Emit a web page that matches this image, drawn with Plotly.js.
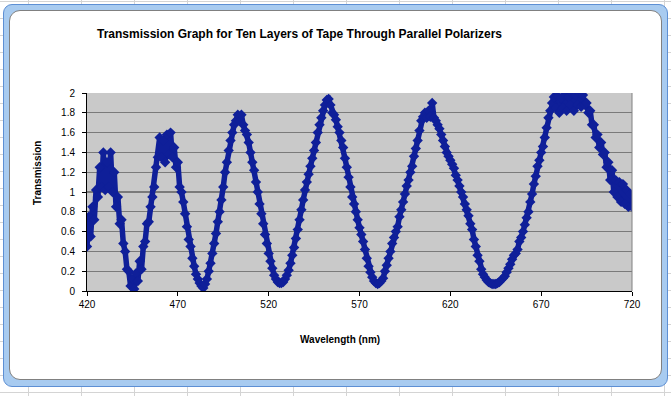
<!DOCTYPE html>
<html>
<head>
<meta charset="utf-8">
<script src="https://cdn.plot.ly/plotly-3.0.1.min.js"></script>
<style>
  html, body { margin: 0; padding: 0; }
  body {
    width: 671px; height: 396px; position: relative; overflow: hidden;
    background-color: #ffffff;
    background-image:
      linear-gradient(to right, #d4d4d4 1px, transparent 1px),
      linear-gradient(to bottom, #d4d4d4 1px, transparent 1px);
    background-size: 53px 17px, 53px 17px;
    background-position: 28px 1px, 28px 1px;
  }
  #frame {
    position: absolute; left: 3px; top: 4px; width: 663px; height: 381px;
    background: #a8cbf0; border: 1px solid #5d8fd4; border-radius: 9px;
  }
  #area {
    position: absolute; left: 9px; top: 10px; width: 651px; height: 368px;
    background: #ffffff; border: 1px solid #808080; border-radius: 11px;
  }
  #chart { position: absolute; left: 0; top: 0; width: 671px; height: 396px; }
</style>
</head>
<body>
<div id="frame"></div>
<div id="area"></div>
<div id="chart"></div>
<script>
// Wavelength (nm), one reading per nm from 420 to 720
const wavelengthStart = 420;
const transmission = [
  0.45, 0.75, 0.55, 0.85, 0.72, 1.02, 0.95, 1.25, 1.05, 1.40,
  1.02, 1.30, 1.05, 1.40, 1.00, 1.20, 0.85, 0.95, 0.68, 0.72,
  0.48, 0.40, 0.22, 0.20, 0.05, 0.12, 0.02, 0.18, 0.10, 0.30,
  0.22, 0.45, 0.50, 0.68, 0.70, 0.85, 0.95, 1.05, 1.25, 1.35,
  1.55, 1.35, 1.52, 1.30, 1.58, 1.38, 1.60, 1.35, 1.45, 1.25,
  1.30, 1.05, 1.00, 0.90, 0.78, 0.65, 0.52, 0.45, 0.33, 0.25,
  0.17, 0.12, 0.08, 0.05, 0.03, 0.07, 0.12, 0.20, 0.28, 0.38,
  0.48, 0.58, 0.70, 0.80, 0.92, 1.05, 1.20, 1.30, 1.42, 1.52,
  1.60, 1.68, 1.72, 1.78, 1.72, 1.78, 1.68, 1.62, 1.58, 1.50,
  1.40, 1.30, 1.22, 1.10, 1.00, 0.88, 0.78, 0.68, 0.57, 0.48,
  0.38, 0.30, 0.23, 0.16, 0.12, 0.09, 0.08, 0.08, 0.09, 0.12,
  0.16, 0.21, 0.28, 0.36, 0.44, 0.53, 0.62, 0.72, 0.82, 0.92,
  1.02, 1.10, 1.18, 1.26, 1.34, 1.42, 1.50, 1.60, 1.68, 1.75,
  1.82, 1.88, 1.93, 1.94, 1.88, 1.80, 1.78, 1.73, 1.66, 1.60,
  1.52, 1.45, 1.34, 1.25, 1.15, 1.05, 0.95, 0.88, 0.80, 0.72,
  0.64, 0.57, 0.50, 0.42, 0.33, 0.25, 0.19, 0.14, 0.10, 0.08,
  0.07, 0.08, 0.10, 0.13, 0.20, 0.26, 0.33, 0.40, 0.48, 0.54,
  0.60, 0.65, 0.75, 0.82, 0.90, 0.98, 1.06, 1.12, 1.20, 1.26,
  1.36, 1.44, 1.52, 1.62, 1.72, 1.76, 1.80, 1.75, 1.82, 1.76,
  1.90, 1.75, 1.72, 1.68, 1.64, 1.58, 1.52, 1.46, 1.40, 1.36,
  1.32, 1.28, 1.24, 1.17, 1.12, 1.06, 1.00, 0.95, 0.88, 0.82,
  0.76, 0.68, 0.62, 0.52, 0.45, 0.36, 0.30, 0.22, 0.17, 0.14,
  0.11, 0.09, 0.08, 0.07, 0.07, 0.07, 0.08, 0.09, 0.11, 0.13,
  0.15, 0.19, 0.23, 0.27, 0.32, 0.36, 0.38, 0.42, 0.50, 0.54,
  0.60, 0.67, 0.74, 0.80, 0.90, 0.98, 1.08, 1.16, 1.26, 1.32,
  1.40, 1.46, 1.55, 1.65, 1.75, 1.82, 1.90, 1.96, 1.85, 1.97,
  1.80, 1.95, 1.85, 1.98, 1.82, 1.96, 1.88, 2.00, 1.82, 1.98,
  1.88, 2.00, 1.86, 1.98, 1.88, 1.90, 1.80, 1.82, 1.68, 1.68,
  1.55, 1.58, 1.45, 1.50, 1.38, 1.40, 1.25, 1.30, 1.12, 1.22,
  1.00, 1.12, 0.95, 1.10, 0.90, 1.08, 0.88, 1.02, 0.85, 0.98,
  0.85
];
const wavelength = transmission.map((_, i) => wavelengthStart + i);

const xTickValues = [420, 470, 520, 570, 620, 670, 720];
const yTickValues = [0, 0.2, 0.4, 0.6, 0.8, 1, 1.2, 1.4, 1.6, 1.8, 2];

const chartTitle = 'Transmission Graph for Ten Layers of Tape Through Parallel Polarizers';
const xTitle = 'Wavelength (nm)';
const yTitle = 'Transmission';

const W = 671, H = 396;
const margin = { l: 87, r: 39, t: 93, b: 105 };
const pw = W - margin.l - margin.r, ph = H - margin.t - margin.b;
const px = (x) => (x - margin.l) / pw;
const py = (y) => (H - margin.b - y) / ph;

const navy = '#0f1f99';
const font = 'Arial, "Liberation Sans", sans-serif';

const trace = {
  x: wavelength, y: transmission, type: 'scatter', mode: 'lines+markers',
  line: { color: navy, width: 5.5 },
  marker: { symbol: 'diamond', size: 8, color: navy, line: { width: 0 } },
  cliponaxis: true, hoverinfo: 'skip'
};

const layout = {
  width: W, height: H, margin: margin,
  paper_bgcolor: 'rgba(0,0,0,0)', plot_bgcolor: '#c9c9c9',
  showlegend: false,
  font: { family: font, size: 10, color: '#000' },
  xaxis: {
    range: [420, 720], tickvals: xTickValues, ticktext: xTickValues.map(String),
    ticks: 'outside', ticklen: 4, tickwidth: 1, tickcolor: '#000',
    showline: true, linecolor: '#000', linewidth: 1, mirror: false,
    showgrid: false, zeroline: false, fixedrange: true,
    tickfont: { family: font, size: 10, color: '#000' }
  },
  yaxis: {
    range: [0, 2], tickvals: yTickValues, ticktext: yTickValues.map(String),
    ticks: 'outside', ticklen: 4, tickwidth: 1, tickcolor: '#000',
    ticklabelstandoff: 5,
    showline: true, linecolor: '#000', linewidth: 1,
    showgrid: true, gridcolor: '#7a7a7a', gridwidth: 1.3,
    zeroline: false, fixedrange: true,
    tickfont: { family: font, size: 10, color: '#000' }
  },
  shapes: [
    { type: 'line', xref: 'paper', yref: 'paper', x0: 1, x1: 1, y0: 0, y1: 1,
      line: { color: '#808080', width: 1 } }
  ],
  annotations: [
    { text: '<b>' + chartTitle + '</b>', xref: 'paper', yref: 'paper',
      x: px(95), y: py(34), xanchor: 'left', yanchor: 'middle', showarrow: false,
      font: { family: font, size: 12, color: '#000' } },
    { text: '<b>' + xTitle + '</b>', xref: 'paper', yref: 'paper',
      x: px(340), y: py(339), xanchor: 'center', yanchor: 'middle', showarrow: false,
      font: { family: font, size: 10, color: '#000' } },
    { text: '<b>' + yTitle + '</b>', xref: 'paper', yref: 'paper',
      x: px(37), y: py(173), xanchor: 'center', yanchor: 'middle', showarrow: false,
      textangle: -90, font: { family: font, size: 10, color: '#000' } }
  ]
};

Plotly.newPlot('chart', [trace], layout, { staticPlot: true, displayModeBar: false });
</script>
</body>
</html>
